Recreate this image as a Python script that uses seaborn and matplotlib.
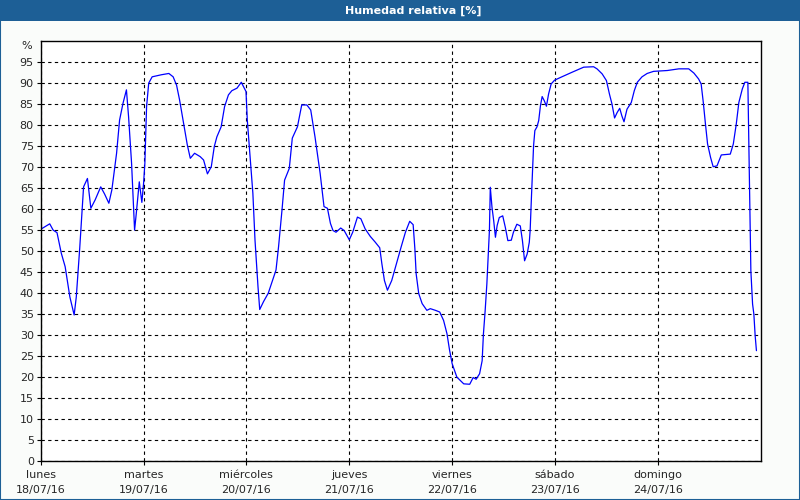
import matplotlib
matplotlib.use("Agg")
import matplotlib.pyplot as plt
import seaborn as sns
import pandas as pd
from matplotlib.patches import Rectangle

# Hours since Monday 18/07/16 00:00 and relative humidity (%)
hours = [
    0, 2.1, 2.9, 3.8, 4.8, 5.7, 6.8, 7.8, 8.3, 9.1, 9.6, 10.0, 10.9, 11.7, 12.7,
    14.0, 14.9, 15.9, 16.6, 17.7, 18.4, 19.2, 20.0, 20.5, 21.2, 21.9, 22.3, 23.0,
    23.6, 24.0, 24.3, 24.7, 25.2, 26.0, 28.2, 29.9, 30.9, 31.7, 32.4, 33.2, 34.2,
    34.9, 35.9, 37.2, 38.0, 38.9, 39.8, 40.5, 41.1, 42.1, 42.9, 43.8, 44.6, 45.8,
    46.8, 47.9, 48.2, 48.9, 49.5, 50.0, 50.7, 51.1, 52.0, 53.1, 54.1, 54.9, 55.5,
    56.3, 56.9, 58.0, 58.7, 59.9, 60.9, 62.1, 63.0, 64.0, 65.2, 66.1, 66.9, 67.6,
    68.2, 68.9, 70.0, 70.8, 72.0, 72.8, 73.9, 74.7, 75.7, 76.9, 78.0, 79.1, 79.6,
    80.2, 80.9, 81.9, 83.0, 84.1, 85.1, 86.1, 86.9, 87.3, 87.6, 88.2, 89.0, 90.1,
    90.9, 92.1, 93.1, 94.0, 94.8, 95.4, 96.0, 97.1, 98.7, 100.1, 100.9, 101.6,
    102.4, 103.0, 103.3, 103.7, 104.1, 104.4, 104.7, 104.9, 105.3, 105.7, 106.1,
    106.5, 107.0, 107.8, 108.4, 109.0, 109.8, 110.3, 111.1, 111.9, 112.4, 112.9,
    113.5, 114.0, 114.2, 114.5, 114.8, 115.0, 115.3, 115.8, 116.2, 116.6, 117.0,
    117.5, 118.0, 118.5, 119.1, 119.9, 121.6, 124.0, 126.7, 129.0, 129.8, 131.0,
    132.0, 132.7, 133.3, 133.9, 134.5, 135.1, 135.6, 136.1, 136.8, 137.8, 138.5,
    139.2, 140.3, 141.5, 143.0, 146.2, 148.9, 151.2, 152.4, 153.5, 154.1, 154.6,
    155.1, 155.6, 156.3, 156.9, 157.8, 158.8, 160.9, 161.6, 162.3, 162.9, 163.7,
    164.3, 165.0, 165.3, 165.5, 165.7, 166.1, 166.4, 166.7, 167.0,
]
humidity = [
    55.1, 56.4, 54.9, 54.3, 49.4, 46.2, 39.0, 34.7, 39.0, 50.6, 58.9, 65.2, 67.2,
    60.1, 62.1, 65.2, 63.5, 61.3, 64.5, 73.2, 81.1, 85.1, 88.3, 81.9, 70.8, 54.9,
    58.9, 66.4, 61.5, 66.0, 70.8, 84.3, 89.9, 91.4, 91.9, 92.2, 91.4, 89.4, 85.9,
    81.1, 75.2, 72.0, 73.2, 72.4, 71.6, 68.3, 70.0, 74.8, 77.1, 79.5, 84.3, 87.1,
    88.1, 88.7, 90.1, 87.9, 81.1, 71.6, 63.7, 52.5, 41.4, 36.0, 37.9, 39.9, 43.0,
    45.4, 51.0, 59.7, 66.8, 69.6, 76.8, 79.5, 84.7, 84.7, 83.5, 77.1, 68.4, 60.5,
    60.1, 56.5, 54.8, 54.4, 55.4, 54.8, 52.6, 54.4, 58.0, 57.6, 55.2, 53.4, 52.1,
    50.7, 46.9, 42.9, 40.6, 42.9, 46.9, 50.9, 54.4, 57.0, 56.2, 50.5, 44.5, 39.8,
    37.4, 35.8, 36.2, 35.8, 35.4, 33.4, 30.2, 26.3, 23.1, 19.9, 18.3, 18.2, 19.8,
    19.4, 20.7, 23.8, 30.2, 35.7, 42.1, 48.4, 54.9, 65.1, 60.3, 57.1, 53.2, 56.0,
    57.9, 58.3, 55.6, 52.4, 52.5, 54.4, 56.3, 55.9, 52.4, 47.6, 49.2, 52.0, 54.8,
    62.7, 69.8, 75.0, 78.6, 79.5, 81.0, 84.5, 86.7, 85.7, 84.4, 87.3, 89.7, 90.6,
    91.4, 92.5, 93.7, 93.8, 93.3, 92.1, 90.5, 87.3, 84.9, 81.6, 82.9, 83.9, 82.1,
    80.7, 83.7, 85.3, 88.1, 90.1, 91.4, 92.2, 92.7, 92.9, 93.3, 93.3, 92.3, 90.9,
    89.7, 85.3, 80.2, 75.4, 72.2, 70.0, 70.2, 72.8, 73.0, 75.4, 80.2, 85.3, 88.5,
    90.1, 90.1, 70.6, 57.9, 45.2, 37.3, 34.9, 29.8, 26.2,
]

day_names = ["lunes", "martes", "miércoles", "jueves", "viernes", "sábado", "domingo"]
day_dates = ["18/07/16", "19/07/16", "20/07/16", "21/07/16", "22/07/16", "23/07/16", "24/07/16"]
y_ticks = list(range(0, 100, 5))

TITLE_BLUE = "#1d5f96"

sns.set_style("white")
plt.rcParams["font.family"] = ["DejaVu Sans"]

df = pd.DataFrame({"hora": hours, "humedad": humidity})

fig = plt.figure(figsize=(8, 5), dpi=100, facecolor="#fafcfa")
ax = fig.add_axes([0.0509, 0.0786, 0.9, 0.84])
ax.set_facecolor("white")

sns.lineplot(data=df, x="hora", y="humedad", ax=ax, color="#0000ff", linewidth=0.9)

ax.set_xlim(0, 168)
ax.set_ylim(0, 100)
ax.set_xticks([24 * i for i in range(len(day_names))])
ax.set_xticklabels([f"{n}\n{d}" for n, d in zip(day_names, day_dates)],
                   fontsize=8, linespacing=1.55)
ax.set_yticks(y_ticks)
ax.set_yticklabels([str(t) for t in y_ticks], fontsize=8)
ax.tick_params(axis="both", direction="out", length=3, width=0.8, color="black",
               pad=2, left=True, bottom=True)
ax.tick_params(axis="x", pad=4)
ax.grid(True, color="black", linestyle=(0, (3, 3)), linewidth=0.8)
for sp in ax.spines.values():
    sp.set_color("black")
    sp.set_linewidth(1.0)
ax.set_xlabel("")
ax.set_ylabel("")
ax.text(-0.012, 98.8, "%", transform=ax.get_yaxis_transform(), ha="right",
        va="center", fontsize=8)

# window-style title bar and frame
fig.patches.append(Rectangle((0, 0.958), 1, 0.042, transform=fig.transFigure,
                             facecolor=TITLE_BLUE, edgecolor="none", zorder=0))
fig.patches.append(Rectangle((0.0006, 0.001), 0.9988, 0.998, transform=fig.transFigure,
                             facecolor="none", edgecolor=TITLE_BLUE, linewidth=1.5))
fig.text(0.516, 0.979, "Humedad relativa [%]", color="white", fontsize=8,
         fontweight="bold", ha="center", va="center")

fig.savefig("out.png", dpi=100, facecolor=fig.get_facecolor())
